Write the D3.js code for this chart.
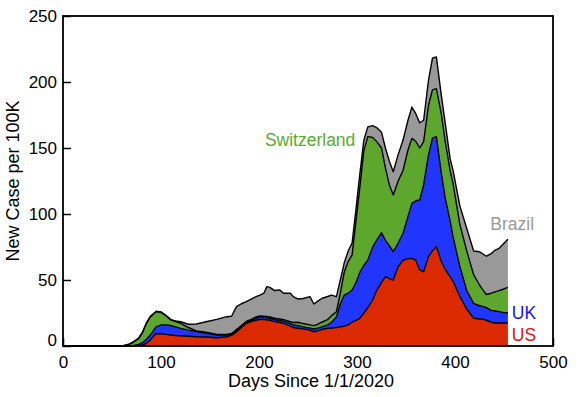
<!DOCTYPE html>
<meta charset="utf-8">

<head>
  <title>New cases per 100K</title>
  <script src="https://d3js.org/d3.v7.min.js"></script>
  <style>
    body { margin: 0; background: white; }
    text { font-family: "Liberation Sans", Arial, Helvetica, sans-serif; }
  </style>
</head>

<body>
  <div id="my_dataviz"></div>

  <script>
    // days since 1/1/2020
    var days = [0, 55, 62, 67, 72, 77, 81, 85, 89, 95, 100, 105, 110, 115, 120, 128, 136, 146, 157, 167,
      172, 177, 182, 187, 192, 197, 201, 205, 208, 211, 216, 221, 225, 232, 235, 240, 245, 252, 256, 260,
      264, 270, 274, 279, 283, 287, 291, 295, 299, 303, 307, 311, 316, 320, 325, 329, 333, 337, 342, 347,
      352, 356, 360, 364, 368, 373, 377, 381, 386, 390, 395, 398, 405, 412, 419, 425, 429, 432, 437, 441,
      445, 449, 454];

    var us = [0, 0, 0, 0, 0.1, 0.3, 0.8, 2, 4.5, 9.5, 9.2, 8.8, 8.3, 8, 7.8, 7.4, 7, 6.8, 6.3, 7,
      8, 10.6, 14, 17, 18.5, 19.5, 20.2, 20, 19.8, 19.5, 18.5, 17.8, 17.2, 15, 14, 13.4, 13, 12, 10.8, 11.5,
      12.5, 13.4, 13.5, 14, 14.5, 15, 16, 18, 19.5, 21, 25, 29, 34.8, 42, 48, 52.5, 51, 50, 60, 65,
      66, 66.4, 65, 57.6, 56.3, 67.7, 72, 75.3, 64, 58, 52.5, 49, 37.4, 28, 21, 20.5, 20.2, 19.5, 18, 17.4,
      17.4, 17.5, 17.2];

    var uk = [0, 0, 0, 0.1, 0.4, 0.9, 1.7, 3, 3.8, 5, 6.8, 7.2, 7.2, 6.5, 5.6, 4.6, 3.9, 3, 2, 1.3,
      1, 1.4, 1, 1, 1, 1.5, 1.8, 1.5, 1.5, 1.5, 1.5, 1.5, 1.6, 2, 2, 2, 1.5, 1.5, 2.1, 2,
      2, 2.6, 4.5, 8, 17.5, 23.6, 24, 24.4, 28.5, 35, 36, 36, 40.2, 38, 37.9, 27.5, 25, 21.4, 18, 20.4,
      32, 41.6, 45, 53, 65.7, 77.3, 85.5, 83.3, 67, 54, 42.5, 33.8, 22.6, 14, 11.3, 10, 9.6, 9.5, 9, 9.1,
      8.6, 8, 7.8];

    var switzerland = [0, 0, 0.3, 0.9, 2.5, 4.3, 7.5, 12, 13.7, 11.5, 9.5, 7, 4.2, 4, 3.8, 2, 0.6, 0.7, 0.5, 0.5,
      0.5, 0.5, 0.5, 0.6, 0.7, 1, 0.7, 1, 1, 1, 1, 1.2, 1.2, 1.4, 1.8, 2.6, 2.5, 2.5, 2.5, 3,
      3.5, 4, 5, 4, 8, 17.4, 24, 26.6, 47, 65, 87, 93.6, 83, 75, 64.1, 55, 46, 43, 47, 47.6,
      50.5, 49.3, 45, 39.4, 32.8, 37.6, 36.5, 36.4, 45, 43, 38, 40.2, 32, 30, 21.7, 15.7, 12.2, 10, 13, 14.5,
      16, 17.5, 19.4];

    var brazil = [0, 0, 0.2, 0.3, 0.3, 0.3, 0.3, 0.3, 0.3, 0.3, 0.3, 0.3, 0.3, 0.5, 1.2, 2.5, 5.2, 7.9, 11.4, 13.4,
      13, 17.3, 16.5, 15, 15.3, 15.4, 15.9, 17.5, 22.7, 22.4, 21, 22, 20, 21.6, 19.6, 17.6, 19, 21.4, 16.4, 17.5,
      18, 17.5, 15.6, 11.4, 10, 7, 8, 9, 9, 10, 8, 7.4, 9, 10.5, 12, 15, 18, 17.6, 20, 23,
      22.5, 23.7, 21, 19, 16.2, 18.9, 24, 24, 14, 14, 9, 10, 14, 17, 18, 25.2, 27.5, 29, 30, 31.7,
      32, 34, 36.4];

    var countries = ["US", "UK", "Switzerland", "Brazil"];
    var colors = ["#dc2a00", "#2036ff", "#5ca72c", "#999999"];
    var labelColors = ["#dd1111", "#1414f0", "#5aab30", "#9a9a9a"];

    var xTicks = [0, 100, 200, 300, 400, 500];
    var yTicks = [0, 50, 100, 150, 200, 250];

    var margin = { top: 16, right: 26, bottom: 51, left: 63 },
      width = 579 - margin.left - margin.right,
      height = 397 - margin.top - margin.bottom;

    var svg = d3.select("#my_dataviz")
      .append("svg")
      .attr("width", width + margin.left + margin.right)
      .attr("height", height + margin.top + margin.bottom)
      .append("g")
      .attr("transform", "translate(" + margin.left + "," + margin.top + ")");

    var x = d3.scaleLinear().domain([0, 500]).range([0, width]);
    var y = d3.scaleLinear().domain([0, 250]).range([height, 0]);

    var data = days.map(function (d, i) {
      return { day: d, US: us[i], UK: uk[i], Switzerland: switzerland[i], Brazil: brazil[i] };
    });

    var series = d3.stack().keys(countries)(data);

    // ticks first, so the areas sit on top
    svg.append("g")
      .attr("class", "x-axis")
      .attr("transform", "translate(0," + height + ")")
      .call(d3.axisBottom(x).tickValues(xTicks).tickSize(-8).tickPadding(10).tickFormat(d3.format("d")))
      .call(function (g) { g.select(".domain").remove(); });

    var yAxis = svg.append("g")
      .attr("class", "y-axis")
      .call(d3.axisLeft(y).tickValues(yTicks).tickSize(-8).tickPadding(6).tickFormat(d3.format("d")))
      .call(function (g) { g.select(".domain").remove(); });

    svg.selectAll(".tick line").attr("stroke", "black").attr("stroke-width", 1.5);
    svg.selectAll(".tick text").style("font-size", "17px").attr("fill", "black");
    // y "0" sits a bit above its tick
    yAxis.selectAll(".tick text").filter(function (d) { return d === 0; }).attr("dy", "-0.05em");

    var area = d3.area()
      .x(function (d) { return x(d.data.day); })
      .y0(function (d) { return y(d[0]); })
      .y1(function (d) { return y(d[1]); });

    var topLine = d3.line()
      .x(function (d) { return x(d.data.day); })
      .y(function (d) { return y(d[1]); });

    svg.selectAll(".layer")
      .data(series)
      .enter()
      .append("path")
      .attr("class", "layer")
      .attr("d", area)
      .attr("fill", function (d, i) { return colors[i]; });

    svg.selectAll(".edge")
      .data(series)
      .enter()
      .append("path")
      .attr("class", "edge")
      .attr("d", topLine)
      .attr("fill", "none")
      .attr("stroke", "black")
      .attr("stroke-width", 1.4)
      .attr("stroke-linejoin", "round");

    // frame
    svg.append("rect")
      .attr("width", width)
      .attr("height", height)
      .attr("fill", "none")
      .attr("stroke", "black")
      .attr("stroke-width", 1.8);

    // series labels, placed in data units
    var labels = [
      { name: "US", x: 458, y: 4 },
      { name: "UK", x: 458, y: 20.5 },
      { name: "Switzerland", x: 206, y: 151.5 },
      { name: "Brazil", x: 436, y: 88 }
    ];
    svg.selectAll(".label")
      .data(labels)
      .enter()
      .append("text")
      .attr("class", "label")
      .attr("x", function (d) { return x(d.x); })
      .attr("y", function (d) { return y(d.y); })
      .style("font-size", "17.5px")
      .attr("fill", function (d) { return labelColors[countries.indexOf(d.name)]; })
      .text(function (d) { return d.name; });

    svg.append("text")
      .attr("x", width / 2 + 3)
      .attr("y", height + 41)
      .attr("text-anchor", "middle")
      .style("font-size", "18px")
      .text("Days Since 1/1/2020");

    svg.append("text")
      .attr("transform", "rotate(-90)")
      .attr("x", -height / 2)
      .attr("y", -44)
      .attr("text-anchor", "middle")
      .style("font-size", "18px")
      .text("New Case per 100K");
  </script>
</body>

</html>
